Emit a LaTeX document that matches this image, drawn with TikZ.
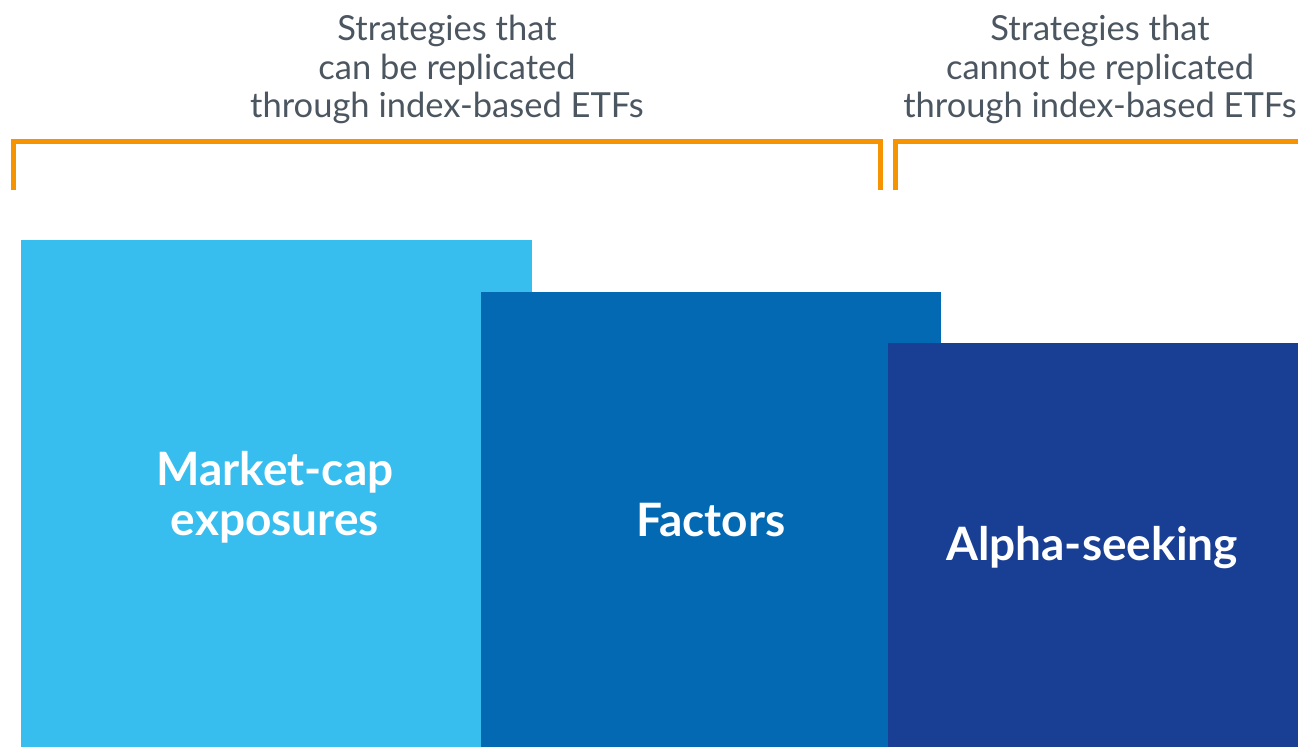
\documentclass[tikz,border=0pt]{standalone}
\usepackage{fontspec}
\setmainfont{Lato}
\definecolor{lightblue}{HTML}{38BDEF}
\definecolor{midblue}{HTML}{0369B3}
\definecolor{darkblue}{HTML}{193F94}
\definecolor{bracketorange}{HTML}{F59300}
\definecolor{textgray}{HTML}{4B5660}
\tikzset{
  block/.style={fill=#1, draw=none},
  blocklabel/.style={text=white, font=\fontsize{46}{50}\selectfont\bfseries, align=center, inner sep=0pt},
  headlabel/.style={text=textgray, font=\fontsize{34.5}{38.5}\selectfont, align=center, inner sep=0pt},
  bracketline/.style={draw=bracketorange, line width=5pt, line join=miter, line cap=butt}
}
\begin{document}
\begin{tikzpicture}[x=1pt,y=-1pt]
\useasboundingbox (0,0) rectangle (1298,747);
% blocks
\fill[block=lightblue] (21,240) rectangle (532,747);
\fill[block=midblue] (481,292) rectangle (941,747);
\fill[block=darkblue] (888,343) rectangle (1298,747);
\node[blocklabel] (mcap) at (275,497) {Market-cap\\exposures};
\node[blocklabel] (fact) at (711,520.5) {Factors};
\node[blocklabel] (alpha) at (1092,548) {Alpha-seeking};
% brackets
\coordinate (b1a) at (13.5,190);
\coordinate (b1b) at (13.5,141.5);
\coordinate (b1c) at (880.5,141.5);
\coordinate (b1d) at (880.5,190);
\draw[bracketline] (b1a) -- (b1b) -- (b1c) -- (b1d);
\coordinate (b2a) at (895.5,190);
\coordinate (b2b) at (895.5,141.5);
\coordinate (b2c) at (1300,141.5);
\draw[bracketline] (b2a) -- (b2b) -- (b2c);
% headings
\node[headlabel, anchor=north] (h1) at (447,15) {Strategies that\\can be replicated\\through index-based ETFs};
\node[headlabel, anchor=north] (h2) at (1100,15) {Strategies that\\cannot be replicated\\through index-based ETFs};
\end{tikzpicture}
\end{document}
